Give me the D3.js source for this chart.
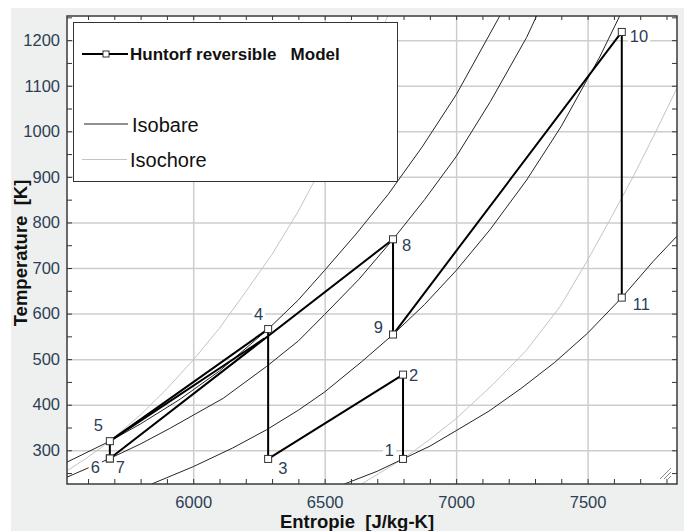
<!DOCTYPE html>
<html lang="de">
<head>
  <meta charset="UTF-8" />
  <title>Huntorf reversible Model - T-s Diagramm</title>
  <script src="https://d3js.org/d3.v7.min.js"></script>
  <style>
    html, body { margin: 0; padding: 0; background: #ffffff; }
    svg { display: block; font-family: "Liberation Sans", Arial, sans-serif; }
    .tick-label { fill: #2c3e55; font-size: 16.5px; }
    .axis-title { fill: #111; font-size: 18.5px; font-weight: bold; white-space: pre; }
  </style>
</head>
<body>
  <svg id="chart" width="684" height="531"></svg>

  <script>
    // ---- data ----
    const pointLabels = ["1", "2", "3", "4", "5", "6", "7", "8", "9", "10", "11"];
    const entropy     = [6798, 6798, 6285, 6285, 5683, 5683, 5683, 6760, 6760, 7630, 7630];
    const temperature = [281, 466, 281, 566, 320, 282, 282, 763, 554, 1218, 635];

    // second (nearly parallel) thick line leaving point 5
    const returnLine = [[5683, 320], [6270, 545]];

    // isobars [s, T]
    const isobarAmbient = [[6575, 226], [6700, 254], [6798, 281], [6900, 309], [7000, 343], [7125, 386],
      [7250, 437], [7375, 493], [7500, 557], [7630, 635], [7750, 715], [7840, 770]];
    const isobar9 = [[5842, 226], [6000, 264], [6150, 305], [6279, 345], [6400, 388], [6500, 428],
      [6640, 494], [6760, 554], [6880, 620], [7001, 695], [7130, 785], [7268, 893], [7400, 1011],
      [7546, 1163], [7622, 1253]];
    const isobar78 = [[5520, 241], [5683, 282], [5800, 314], [5911, 348], [6000, 377], [6114, 414],
      [6279, 484], [6400, 540], [6500, 598], [6630, 675], [6760, 763], [6880, 850], [7001, 945],
      [7130, 1065], [7268, 1206], [7306, 1253]];
    const isobar45 = [[5520, 274], [5683, 320], [5800, 358], [5950, 412], [6100, 474], [6285, 566],
      [6400, 630], [6500, 695], [6620, 775], [6742, 862], [6870, 965], [7001, 1081], [7166, 1253]];

    // isochores [s, T]
    const isochore5 = [[5520, 255], [5600, 285], [5683, 320], [5800, 378], [5900, 435], [6000, 498],
      [6100, 568], [6200, 648], [6300, 730], [6400, 825], [6456, 886], [6550, 1000], [6650, 1130],
      [6740, 1253]];
    const isochore1 = [[6640, 226], [6709, 250], [6798, 281], [6900, 324], [7001, 370], [7141, 445],
      [7268, 520], [7395, 615], [7496, 713], [7584, 805], [7673, 900], [7760, 1000], [7840, 1095]];

    const xMajor = [6000, 6500, 7000, 7500];
    const yMajor = [300, 400, 500, 600, 700, 800, 900, 1000, 1100, 1200];
    const xMinor = d3.range(5600, 7801, 100);
    const yMinor = d3.range(250, 1251, 50);

    const legendNames = ["Huntorf reversible   Model", "Isobare", "Isochore"];

    // ---- layout ----
    const svg = d3.select("#chart");
    const plot = {left: 67, right: 677, top: 16, bottom: 484};
    const pw = plot.right - plot.left, ph = plot.bottom - plot.top;

    const x = d3.scaleLinear().domain([5520, 7840]).range([plot.left, plot.right]);
    const y = d3.scaleLinear().domain([226, 1253]).range([plot.bottom, plot.top]);

    // grey panel + white plot area
    svg.append("rect").attr("x", 11).attr("y", 8).attr("width", 673).attr("height", 523).attr("fill", "#eef0ef");
    svg.append("rect").attr("x", plot.left).attr("y", plot.top).attr("width", pw).attr("height", ph).attr("fill", "#fff");

    svg.append("clipPath").attr("id", "clip")
      .append("rect").attr("x", plot.left).attr("y", plot.top).attr("width", pw).attr("height", ph);

    // grid
    svg.append("g")
        .attr("transform", `translate(0,${plot.bottom})`)
        .call(d3.axisBottom(x).tickValues(xMajor).tickSize(-ph).tickFormat(""))
        .call(g => g.select(".domain").remove())
        .selectAll("line").attr("stroke", "#cdcdcd").attr("stroke-width", 1.5);
    svg.append("g")
        .attr("transform", `translate(${plot.left},0)`)
        .call(d3.axisLeft(y).tickValues(yMajor).tickSize(-pw).tickFormat(""))
        .call(g => g.select(".domain").remove())
        .selectAll("line").attr("stroke", "#cdcdcd").attr("stroke-width", 1.5);

    const curves = svg.append("g").attr("clip-path", "url(#clip)");
    const line = d3.line().x(d => x(d[0])).y(d => y(d[1]));

    // isochores
    [isochore5, isochore1].forEach(c => {
      curves.append("path").attr("d", line(c)).attr("fill", "none")
        .attr("stroke", "#c4c4c4").attr("stroke-width", 1);
    });
    // isobars
    [isobarAmbient, isobar9, isobar78, isobar45].forEach(c => {
      curves.append("path").attr("d", line(c)).attr("fill", "none")
        .attr("stroke", "#262626").attr("stroke-width", 1);
    });

    // cycle
    const cycle = entropy.map((s, i) => [s, temperature[i]]);
    curves.append("path").attr("d", line(cycle)).attr("fill", "none")
      .attr("stroke", "#000").attr("stroke-width", 2).attr("stroke-linejoin", "round");
    curves.append("path").attr("d", line(returnLine)).attr("fill", "none")
      .attr("stroke", "#000").attr("stroke-width", 2);

    // point labels (white box behind text)
    const labelPos = [
      {dx: -9, dy: -3, a: "end"}, {dx: 6, dy: 6, a: "start"}, {dx: 10, dy: 15, a: "start"},
      {dx: -5, dy: -9, a: "end"}, {dx: -7, dy: -10, a: "end"}, {dx: -10, dy: 15, a: "end"},
      {dx: 6, dy: 15, a: "start"}, {dx: 9, dy: 12, a: "start"}, {dx: -10, dy: -2, a: "end"},
      {dx: 8, dy: 10, a: "start"}, {dx: 11, dy: 12, a: "start"}
    ];
    const labels = svg.append("g");
    pointLabels.forEach((t, i) => {
      const g = labels.append("g");
      const txt = g.append("text")
        .attr("x", x(entropy[i]) + labelPos[i].dx)
        .attr("y", y(temperature[i]) + labelPos[i].dy)
        .attr("text-anchor", labelPos[i].a)
        .attr("class", "tick-label")
        .attr("font-size", "16px")
        .text(t);
      const bb = txt.node().getBBox();
      g.insert("rect", "text").attr("x", bb.x - 2).attr("y", bb.y + 2)
        .attr("width", bb.width + 4).attr("height", bb.height - 3).attr("fill", "#fff");
    });

    // markers
    svg.append("g").selectAll("rect")
      .data(cycle)
      .enter().append("rect")
        .attr("x", d => x(d[0]) - 3.5)
        .attr("y", d => y(d[1]) - 3.5)
        .attr("width", 7).attr("height", 7)
        .attr("fill", "#fff").attr("stroke", "#333").attr("stroke-width", 1);

    // frame with inward ticks on all four sides
    const frame = svg.append("g");
    const tickStyle = g => {
      g.select(".domain").remove();
      g.selectAll("line").attr("stroke", "#333");
      g.selectAll("text").remove();
    };
    frame.append("g").attr("transform", `translate(0,${plot.bottom})`)
      .call(d3.axisBottom(x).tickValues(xMinor).tickSize(-5)).call(tickStyle);
    frame.append("g").attr("transform", `translate(0,${plot.top})`)
      .call(d3.axisTop(x).tickValues(xMinor).tickSize(-4)).call(tickStyle);
    frame.append("g").attr("transform", `translate(${plot.left},0)`)
      .call(d3.axisLeft(y).tickValues(yMinor).tickSize(-5)).call(tickStyle);
    frame.append("g").attr("transform", `translate(${plot.right},0)`)
      .call(d3.axisRight(y).tickValues(yMinor).tickSize(-5)).call(tickStyle);
    frame.append("rect").attr("x", plot.left).attr("y", plot.top).attr("width", pw).attr("height", ph)
      .attr("fill", "none").attr("stroke", "#3a3a3a").attr("stroke-width", 1.5);

    // tick labels
    svg.append("g").attr("transform", `translate(0,${plot.bottom})`)
      .call(d3.axisBottom(x).tickValues(xMajor).tickSize(0).tickPadding(12).tickFormat(d3.format("d")))
      .call(g => g.select(".domain").remove())
      .selectAll("text").attr("class", "tick-label").attr("font-family", null).attr("font-size", null);
    svg.append("g").attr("transform", `translate(${plot.left},0)`)
      .call(d3.axisLeft(y).tickValues(yMajor).tickSize(0).tickPadding(7).tickFormat(d3.format("d")))
      .call(g => g.select(".domain").remove())
      .selectAll("text").attr("class", "tick-label").attr("font-family", null).attr("font-size", null);

    // axis titles
    svg.append("text")
      .attr("class", "axis-title")
      .attr("x", 357).attr("y", 528)
      .attr("text-anchor", "middle")
      .text("Entropie  [J/kg-K]");
    svg.append("text")
      .attr("class", "axis-title")
      .attr("transform", "rotate(-90)")
      .attr("x", -253).attr("y", 27)
      .attr("text-anchor", "middle")
      .text("Temperature  [K]");

    // legend
    const legend = svg.append("g");
    legend.append("rect").attr("x", 73.5).attr("y", 22.5).attr("width", 324).attr("height", 159)
      .attr("fill", "#fff").attr("stroke", "#333").attr("stroke-width", 1);
    legend.append("line").attr("x1", 82).attr("x2", 128).attr("y1", 54).attr("y2", 54)
      .attr("stroke", "#000").attr("stroke-width", 2);
    legend.append("rect").attr("x", 103).attr("y", 51).attr("width", 6).attr("height", 6)
      .attr("fill", "#fff").attr("stroke", "#333");
    legend.append("text").attr("x", 130).attr("y", 60)
      .attr("font-size", "17px").attr("font-weight", "bold").attr("fill", "#111")
      .style("white-space", "pre")
      .text(legendNames[0]);
    legend.append("line").attr("x1", 84).attr("x2", 128).attr("y1", 124).attr("y2", 124)
      .attr("stroke", "#222").attr("stroke-width", 1);
    legend.append("text").attr("x", 132).attr("y", 131.5)
      .attr("font-size", "20px").attr("fill", "#111").text(legendNames[1]);
    legend.append("line").attr("x1", 82).attr("x2", 127).attr("y1", 159.5).attr("y2", 159.5)
      .attr("stroke", "#c4c4c4").attr("stroke-width", 1);
    legend.append("text").attr("x", 130).attr("y", 166.5)
      .attr("font-size", "20px").attr("fill", "#111").text(legendNames[2]);

    // resize grip in the corner
    const grip = svg.append("g").attr("stroke", "#888").attr("stroke-width", 1);
    [0, 4, 8].forEach(o => {
      grip.append("line").attr("x1", 660 + o).attr("y1", 479).attr("x2", 671).attr("y2", 468 + o);
    });
  </script>
</body>
</html>
